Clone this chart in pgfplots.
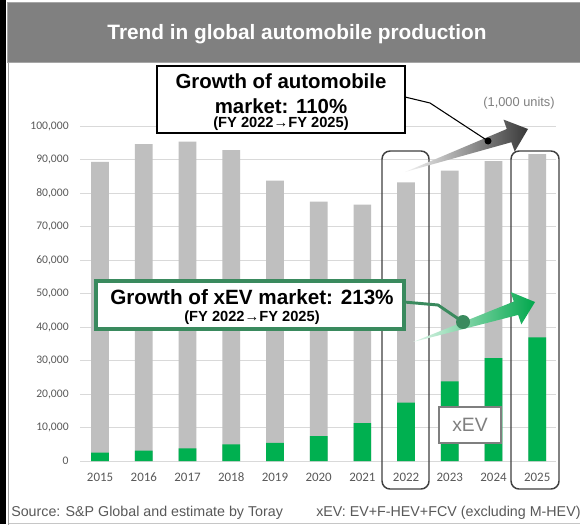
\documentclass[border=0pt]{standalone}
\usepackage{pgfplots}
\pgfplotsset{compat=1.18}
\usepackage{fontspec}
\setmainfont{Liberation Sans}
\newfontfamily\calibri{Carlito}

\definecolor{barGray}{HTML}{BFBFBF}
\definecolor{barGreen}{HTML}{00B050}
\definecolor{gridGray}{HTML}{D9D9D9}
\definecolor{tickGray}{HTML}{595959}
\definecolor{headGray}{HTML}{808080}
\definecolor{headEdge}{HTML}{A6A6A6}
\definecolor{frameGray}{HTML}{A0A0A0}
\definecolor{boxGray}{HTML}{404040}
\definecolor{noteGray}{HTML}{7F7F7F}
\definecolor{leadGreen}{HTML}{3A8A5E}

\begin{document}
\begin{tikzpicture}[x=0.75pt, y=-0.75pt]
\useasboundingbox (0,0) rectangle (580,524);
\clip (0,0) rectangle (580,524);
\fill[white] (0,0) rectangle (580,524);
\fill[black] (0,0) rectangle (6,524);
\filldraw[fill=headGray, draw=headEdge, line width=0.75pt] (7.5,3) rectangle (584,63);
\draw[frameGray, line width=1.1pt] (8.5,63) -- (8.5,530);
\draw[frameGray!60, line width=0.75pt] (8.5,523) -- (584,523);
\node[white, font=\bfseries\fontsize{15.6}{18}\selectfont] at (297,34) {Trend in global automobile production};

\begin{axis}[
  at={(60pt,-345.75pt)}, anchor=south west,
  scale only axis, width=357pt, height=251.25pt,
  xmin=-0.46, xmax=10.43, ymin=0, ymax=100000,
  ybar, bar width=13.3pt,
  xtick={0,...,10},
  xticklabels={2015,2016,2017,2018,2019,2020,2021,2022,2023,2024,2025},
  ytick={0,10000,20000,30000,40000,50000,60000,70000,80000,90000,100000},
  yticklabels={0,{10,000},{20,000},{30,000},{40,000},{50,000},{60,000},{70,000},{80,000},{90,000},{100,000}},
  scaled y ticks=false,
  ymajorgrids, grid style={draw=gridGray, line width=0.75pt},
  axis line style={draw=none}, major tick length=0pt,
  tick label style={text=tickGray},
  yticklabel style={font=\calibri\fontsize{8.7}{10}\selectfont, xshift=-5pt},
  xticklabel style={font=\calibri\fontsize{9.7}{11}\selectfont, yshift=-5.5pt},
  clip=false,
]
% total production (1,000 units)
\addplot[fill=barGray, draw=none, bar shift=0pt] coordinates {
  (0,89300) (1,94600) (2,95300) (3,92800) (4,83700) (5,77400)
  (6,76500) (7,83200) (8,86700) (9,89500) (10,91600)};
% xEV production
\addplot[fill=barGreen, draw=none, bar shift=0pt] coordinates {
  (0,2500) (1,3100) (2,3800) (3,5000) (4,5400) (5,7400)
  (6,11300) (7,17400) (8,23800) (9,30700) (10,36900)};
\end{axis}

% highlight frames
\draw[boxGray, line width=1.1pt, rounded corners=6pt] (382,151) rectangle (429,489);
\draw[boxGray, line width=1.1pt, rounded corners=6pt] (511,151) rectangle (559,489);

% xEV label
\filldraw[fill=white, draw=noteGray, line width=1.3pt] (439,407) rectangle (501,443);
\node[text=noteGray, font=\fontsize{14.5}{16}\selectfont] at (470,425) {xEV};

% units
\node[text=noteGray, font=\fontsize{9.6}{11}\selectfont] at (519,103) {(1,000 units)};

% gray growth arrow
\shade[left color=gray!8, right color=black!78]
  (405,172) -- (511.4,142.2) -- (514.7,151.6) -- (528,129) -- (503.5,119.6) -- (506.8,129.0) -- cycle;
% green growth arrow
\shade[left color=barGreen!12, right color=barGreen!95!black]
  (413,342) -- (518.2,314.9) -- (521.3,324.4) -- (535,302) -- (510.7,292.0) -- (513.8,301.6) -- cycle;

% automobile market callout
\draw[black, line width=0.8pt] (405,97) -- (430,103) -- (488,141);
\fill[black] (488,141) circle (3.5);
\filldraw[fill=white, draw=black, line width=1.1pt] (157,66) rectangle (405,133);
\node[font=\bfseries\fontsize{15.3}{18}\selectfont] at (281,81) {Growth of automobile};
\node[font=\bfseries\fontsize{15.3}{18}\selectfont] at (281,106) {market: 110\%};
\node[font=\bfseries\fontsize{11}{13}\selectfont] at (281,124) {(FY 2022→FY 2025)};

% xEV market callout
\draw[leadGreen, line width=2.2pt] (404,302) -- (438,305) -- (463,322);
\fill[leadGreen] (463,322) circle (7);
\filldraw[fill=white, draw=leadGreen, line width=3pt] (96,281) rectangle (404,329);
\node[font=\bfseries\fontsize{15.5}{18}\selectfont] at (252,297) {Growth of xEV market: 213\%};
\node[font=\bfseries\fontsize{11}{13}\selectfont] at (252,318) {(FY 2022→FY 2025)};

% footnotes
\node[anchor=west, inner sep=0pt, text=tickGray, font=\fontsize{10.7}{12}\selectfont] at (11,513) {Source: S\&P Global and estimate by Toray};
\node[anchor=west, inner sep=0pt, text=tickGray, font=\fontsize{10.7}{12}\selectfont] at (316,513) {xEV: EV+F-HEV+FCV (excluding M-HEV)};
\end{tikzpicture}
\end{document}
